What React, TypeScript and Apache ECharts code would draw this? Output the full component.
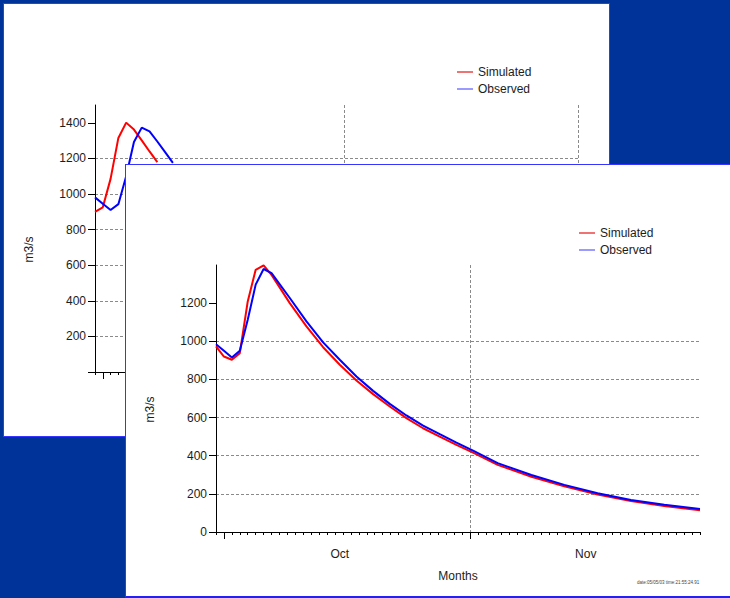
import React, { useEffect, useRef } from 'react';
import * as echarts from 'echarts';

// ---- data (day offsets: 0 = 1 Oct, -1 = 30 Sep, 31 = 1 Nov) ----
const seriesNames = ['Simulated', 'Observed'];
const monthLabels = ['Oct', 'Nov'];
const monthLabelDays = [14.6, 45.6];

// back (earlier) chart
const backSimDays = [-1, 0, 1, 2, 3, 4, 5, 6, 7];
const backSimulated = [900, 925, 1085, 1315, 1401, 1362, 1301, 1239, 1179];
const backObsDays = [-1, 0, 1, 2, 3, 4, 5, 6, 7, 8, 9];
const backObserved = [981, 945, 910, 943, 1100, 1292, 1373, 1352, 1295, 1235, 1175];
const backMonthStarts = [0, 31, 61];
const backYTicks = [0, 200, 400, 600, 800, 1000, 1200, 1400];
const backYLabels = [200, 400, 600, 800, 1000, 1200, 1400];

// front (calibrated) chart
const frontDays = [-1, 0, 1, 2, 3, 4, 5, 6, 8.3, 10.4, 12.5, 14.6, 16.7, 18.8, 20.9, 23, 25.1, 27.2, 29.3, 31.4, 34.5, 38.75, 42.9, 47.1, 51.3, 55.5, 60];
const frontSimulated = [973, 920, 903, 938, 1209, 1375, 1398, 1348, 1200, 1078, 969, 877, 794, 723, 658, 597, 544, 500, 457, 416, 352, 290, 240, 196, 163, 136, 114];
const frontObserved = [985, 950, 915, 950, 1113, 1297, 1379, 1357, 1227, 1104, 994, 903, 815, 740, 672, 611, 558, 513, 469, 427, 361, 299, 247, 203, 168, 143, 121];
const frontMonthStarts = [0, 31];
const frontYTicks = [0, 200, 400, 600, 800, 1000, 1200];
const frontYLabels = [0, 200, 400, 600, 800, 1000, 1200];

const stampText = 'date:05/05/03 time:21:55:24.91';

const FONT = "'Liberation Sans', Arial, sans-serif";
const TEXT = '#1c1c1c';
const GRIDC = '#8a8a8a';
const COLORS = ['#ff0000', '#0000ff'];
const LEGEND_COLORS = ['#e00000', '#4a4aff'];
const LINE_ICON = 'path://M0,0 L16,0 L16,1.1 L0,1.1 Z';

const pairs = (xs: number[], ys: number[]) => xs.map((x, i) => [x, ys[i]]);

function makeOption(p: any) {
  return {
    animation: false,
    textStyle: { fontFamily: FONT, fontSize: 12, color: TEXT },
    grid: { left: p.left, top: p.top, right: 31, bottom: p.bottom, containLabel: false },
    legend: {
      data: seriesNames.map((n, i) => ({ name: n, icon: LINE_ICON, itemStyle: { color: LEGEND_COLORS[i] } })),
      orient: 'vertical',
      left: 453,
      top: 62,
      itemWidth: 16,
      itemHeight: 12,
      itemGap: 5,
      padding: 0,
      selectedMode: false,
      textStyle: { fontFamily: FONT, fontSize: 12, color: TEXT },
    },
    xAxis: [
      {
        type: 'value',
        min: -1,
        max: p.xMax,
        interval: 1,
        position: 'bottom',
        axisLine: { show: true, onZero: false, lineStyle: { color: '#000', width: 1 } },
        axisTick: { show: true, length: 3, lineStyle: { color: '#000', width: 1 } },
        axisLabel: { show: false },
        splitLine: { show: false },
      },
      {
        type: 'value',
        min: -1,
        max: p.xMax,
        position: 'bottom',
        axisLine: { show: false, onZero: false },
        axisTick: { show: true, customValues: p.monthStarts, length: 7, lineStyle: { color: '#000', width: 1 } },
        axisLabel: {
          show: p.showMonthLabels,
          customValues: monthLabelDays,
          margin: 16,
          fontSize: 12,
          color: TEXT,
          fontFamily: FONT,
          formatter: (v: number) => {
            const i = monthLabelDays.findIndex((d) => Math.abs(d - v) < 1e-6);
            return i >= 0 ? monthLabels[i] : '';
          },
        },
        splitLine: { show: true, showMinLine: false, lineStyle: { color: GRIDC, width: 1, type: [3, 2] } },
        name: p.showMonthLabels ? 'Months' : '',
        nameLocation: 'middle',
        nameGap: 38,
        nameTextStyle: { fontFamily: FONT, fontSize: 12, color: TEXT },
      },
    ],
    yAxis: {
      type: 'value',
      min: 0,
      max: p.yMax,
      axisLine: { show: true, onZero: false, lineStyle: { color: '#000', width: 1 } },
      axisTick: { show: true, customValues: p.yTicks, length: 7, lineStyle: { color: '#000', width: 1 } },
      axisLabel: {
        customValues: p.yLabels,
        margin: 9,
        fontSize: 12,
        color: TEXT,
        fontFamily: FONT,
        formatter: (v: number) => String(v),
      },
      splitLine: { show: true, showMinLine: false, showMaxLine: false, lineStyle: { color: GRIDC, width: 1, type: [3, 2] } },
      name: 'm3/s',
      nameLocation: 'middle',
      nameRotate: 90,
      nameGap: 60,
      nameTextStyle: { fontFamily: FONT, fontSize: 12, color: TEXT, padding: [0, 22, 0, 0] },
    },
    graphic: p.stamp
      ? [
          {
            type: 'text',
            left: 511,
            top: 415,
            style: { text: p.stamp, fontSize: 4.5, fill: '#444', fontFamily: FONT },
          },
        ]
      : [],
    series: [
      {
        name: seriesNames[0],
        type: 'line',
        xAxisIndex: 0,
        yAxisIndex: 0,
        symbol: 'none',
        showSymbol: false,
        data: p.sim,
        lineStyle: { color: COLORS[0], width: 2 },
        itemStyle: { color: COLORS[0] },
      },
      {
        name: seriesNames[1],
        type: 'line',
        xAxisIndex: 0,
        yAxisIndex: 0,
        symbol: 'none',
        showSymbol: false,
        data: p.obs,
        lineStyle: { color: COLORS[1], width: 2 },
        itemStyle: { color: COLORS[1] },
      },
    ],
  };
}

function Chart({ option }: { option: any }) {
  const ref = useRef<HTMLDivElement>(null);
  useEffect(() => {
    const chart = echarts.init(ref.current as HTMLDivElement, null, { renderer: 'svg' });
    chart.setOption(option);
    return () => chart.dispose();
  }, []);
  return <div ref={ref} style={{ position: 'absolute', left: 0, top: 0, width: 605, height: 432 }} />;
}

export default function App() {
  const backOption = makeOption({
    left: 91,
    top: 101,
    bottom: 64,
    xMax: 61,
    yMax: 1500,
    monthStarts: backMonthStarts,
    yTicks: backYTicks,
    yLabels: backYLabels,
    showMonthLabels: false,
    stamp: '',
    sim: pairs(backSimDays, backSimulated),
    obs: pairs(backObsDays, backObserved),
  });
  const frontOption = makeOption({
    left: 90,
    top: 100,
    bottom: 65,
    xMax: 60,
    yMax: 1400,
    monthStarts: frontMonthStarts,
    yTicks: frontYTicks,
    yLabels: frontYLabels,
    showMonthLabels: true,
    stamp: stampText,
    sim: pairs(frontDays, frontSimulated),
    obs: pairs(frontDays, frontObserved),
  });
  return (
    <div
      style={{
        position: 'fixed',
        left: 0,
        top: 0,
        width: 730,
        height: 598,
        background: '#003399',
        overflow: 'hidden',
      }}
    >
      <div
        style={{
          position: 'absolute',
          left: 3,
          top: 3,
          width: 607,
          height: 434,
          boxSizing: 'border-box',
          border: '1px solid #3535ff',
          background: '#ffffff',
          overflow: 'hidden',
        }}
      >
        <Chart option={backOption} />
      </div>
      <div
        style={{
          position: 'absolute',
          left: 125,
          top: 164,
          width: 607,
          height: 434,
          boxSizing: 'border-box',
          border: '1px solid #3535ff',
          borderBottom: '2px solid #2020ff',
          background: '#ffffff',
          overflow: 'hidden',
        }}
      >
        <Chart option={frontOption} />
      </div>
    </div>
  );
}
